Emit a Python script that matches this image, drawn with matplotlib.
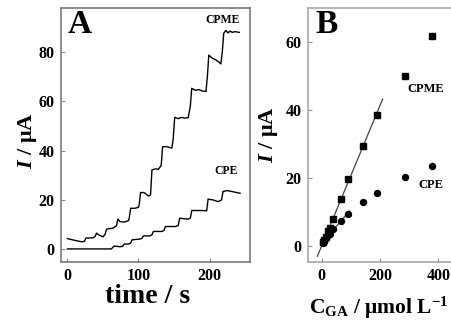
import numpy as np
import matplotlib
matplotlib.use("Agg")
import matplotlib.pyplot as plt

plt.rcParams['font.family'] = ['Liberation Serif', 'DejaVu Serif']
plt.rcParams['font.weight'] = 'bold'
plt.rcParams['mathtext.fontset'] = 'custom'
plt.rcParams['mathtext.rm'] = 'Liberation Serif:bold'
plt.rcParams['mathtext.bf'] = 'Liberation Serif:bold'
plt.rcParams['mathtext.it'] = 'Liberation Serif:bold:italic'

# ---- Panel A: amperometric response (time / s, current / uA) ----
cpme_t = [0, 10, 20, 24, 26, 36, 39, 41, 44, 50, 53, 55, 58, 64, 69, 71, 74, 80, 86, 87,
          89, 95, 100, 101, 103, 108, 114, 117, 119, 124, 128, 132, 134, 140, 147, 149,
          151, 156, 160, 165, 170, 173, 175, 180, 185, 190, 195, 197, 199, 204, 208, 212,
          216, 218, 220, 223, 226, 229, 232, 236, 242]
cpme_i = [4.3, 3.6, 3.0, 3.2, 4.5, 4.6, 5.2, 6.5, 5.8, 5.0, 6.0, 8.1, 8.3, 8.5, 9.5, 12.2,
          11.2, 11.0, 11.6, 12.5, 16.6, 16.6, 17.0, 18.0, 23.0, 23.0, 21.6, 22.0, 32.2,
          32.6, 32.4, 34.0, 41.6, 41.6, 41.0, 45.0, 53.5, 53.0, 53.5, 53.2, 53.4, 58.0,
          65.3, 64.5, 64.8, 64.2, 64.0, 70.0, 78.8, 77.5, 77.0, 76.2, 75.2, 80.0, 87.6,
          88.8, 87.8, 88.5, 88.0, 88.3, 88.0]
cpe_t = [0, 62, 64, 66, 74, 78, 80, 86, 89, 91, 102, 105, 107, 116, 119, 121, 133, 136,
         138, 152, 156, 158, 163, 170, 173, 175, 187, 196, 198, 205, 212, 217, 219, 225,
         230, 243]
cpe_i = [0.1, 0.1, 0.8, 1.3, 1.0, 1.2, 2.1, 2.1, 2.4, 3.8, 4.1, 4.4, 5.4, 5.4, 5.8, 7.2,
         7.2, 7.6, 9.2, 9.2, 9.6, 12.6, 12.4, 12.2, 12.6, 15.7, 15.7, 15.6, 20.3, 20.0,
         19.3, 20.0, 23.4, 23.8, 23.5, 22.7]

# ---- Panel B: calibration (C_GA / umol L-1, current / uA) ----
conc = [5, 9, 14, 20, 28, 40, 65, 89, 141, 189, 287, 377]
cpme_b = [1.3, 1.9, 2.7, 4.4, 5.5, 8.1, 13.9, 19.8, 29.5, 38.5, 50.0, 61.8]
cpe_b = [1.0, 1.5, 2.4, 3.3, 3.6, 5.0, 7.6, 9.5, 13.0, 15.8, 20.5, 23.6]
cpme_fit_n = 10          # points used for the linear fit
cpe_fit_n = 8
cpme_fit_range = [-15, 209]
cpe_fit_range = [4, 95]

A_xticks = [0, 100, 200]
A_yticks = [0, 20, 40, 60, 80]
B_xticks = [0, 200, 400]
B_yticks = [0, 20, 40, 60]

W, H = 451, 320
fig = plt.figure(figsize=(W / 100, H / 100), dpi=100)

def frac_box(l, t, r, b):
    return [l / W, 1 - b / H, (r - l) / W, (b - t) / H]

axA = fig.add_axes(frac_box(61, 8, 250, 262))
axB = fig.add_axes(frac_box(308, 8, 455, 262))

TICK_FS = 11.5
for ax, spc in ((axA, '#7a7a7a'), (axB, '#a8a8a8')):
    for s in ax.spines.values():
        s.set_color(spc)
        s.set_linewidth(1.2)
    ax.tick_params(direction='in', length=3, width=0.8, colors='#909090',
                   labelcolor='black', labelsize=TICK_FS, pad=4.5)

# Panel A
axA.plot(cpme_t, cpme_i, color='black', lw=1.0)
axA.plot(cpe_t, cpe_i, color='black', lw=1.0)
axA.set_xlim(-9, 257)
axA.set_ylim(-5.2, 97.9)
axA.set_xticks(A_xticks)
axA.set_yticks(A_yticks)
axA.set_xticklabels([str(v) for v in A_xticks], fontweight='bold', fontsize=TICK_FS)
axA.set_yticklabels([str(v) for v in A_yticks], fontweight='bold', fontsize=TICK_FS)
axA.set_xlabel('time / s', fontsize=20, fontweight='bold')
axA.xaxis.set_label_coords(0.458, -0.085)
axA.set_ylabel(r'$\mathit{I}$ / μA', fontsize=16, fontweight='bold')
axA.yaxis.set_label_coords(-0.115, 0.478)
axA.text(0.037, 0.900, 'A', transform=axA.transAxes, fontsize=24, fontweight='bold',
         ha='left', va='baseline')
axA.text(0.762, 0.942, 'CPME', transform=axA.transAxes, fontsize=8.5, fontweight='bold',
         ha='left', va='baseline')
axA.text(0.81, 0.345, 'CPE', transform=axA.transAxes, fontsize=8.5, fontweight='bold',
         ha='left', va='baseline')

# Panel B
c = np.array(conc, dtype=float)
p1 = np.polyfit(c[:cpme_fit_n], np.array(cpme_b)[:cpme_fit_n], 1)
p2 = np.polyfit(c[:cpe_fit_n], np.array(cpe_b)[:cpe_fit_n], 1)
xr1 = np.array(cpme_fit_range, dtype=float)
xr2 = np.array(cpe_fit_range, dtype=float)
axB.plot(xr1, np.polyval(p1, xr1), color='#444444', lw=0.9)
axB.plot(xr2, np.polyval(p2, xr2), color='#444444', lw=0.9)
axB.plot(conc, cpme_b, 's', color='black', ms=4, mec='black')
axB.plot(conc, cpe_b, 'o', color='black', ms=4.3, mec='black')
axB.set_xlim(-47, 457)
axB.set_ylim(-4.6, 70.1)
axB.set_xticks(B_xticks)
axB.set_yticks(B_yticks)
axB.set_xticklabels([str(v) for v in B_xticks], fontweight='bold', fontsize=TICK_FS)
axB.set_yticklabels([str(v) for v in B_yticks], fontweight='bold', fontsize=TICK_FS)
axB.set_ylabel(r'$\mathit{I}$ / μA', fontsize=16, fontweight='bold')
axB.yaxis.set_label_coords(-0.19, 0.5)
axB.text(0.048, 0.900, 'B', transform=axB.transAxes, fontsize=24, fontweight='bold',
         ha='left', va='baseline')
axB.text(0.673, 0.670, 'CPME', transform=axB.transAxes, fontsize=9, fontweight='bold',
         ha='left', va='baseline')
axB.text(0.748, 0.290, 'CPE', transform=axB.transAxes, fontsize=9, fontweight='bold',
         ha='left', va='baseline')

# x label of panel B placed in figure pixels to fit within the image
fig.text(378.5 / W, 1 - 314 / H, r'C$_{\mathrm{GA}}$ / μmol L$^{\mathrm{-1}}$',
         fontsize=15.5, fontweight='bold', ha='center', va='baseline')

fig.savefig('out.png', dpi=100)
